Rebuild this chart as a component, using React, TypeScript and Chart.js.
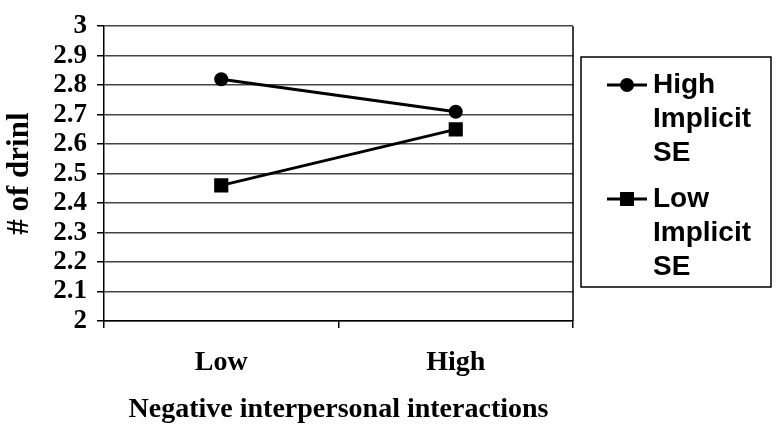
import React, { useEffect, useRef } from "react";
import { Chart, registerables } from "chart.js";

Chart.register(...registerables);

const categories = ["Low", "High"];
const highImplicitSE = [2.82, 2.71];
const lowImplicitSE = [2.46, 2.65];
const seriesLabels = ["High Implicit SE", "Low Implicit SE"];
const yTitle = "# of drinl";
const xTitle = "Negative interpersonal interactions";

const serif = '"Liberation Serif", "Times New Roman", serif';
const sans = '"Liberation Sans", Arial, sans-serif';

const frameAndLegend = {
  id: "frameAndLegend",
  afterDraw(chart: any) {
    const ctx = chart.ctx;
    const a = chart.chartArea;
    ctx.save();
    ctx.strokeStyle = "#000";
    ctx.lineWidth = 1.5;
    ctx.beginPath();
    ctx.moveTo(a.right, a.top);
    ctx.lineTo(a.right, a.bottom);
    ctx.stroke();

    const bx = 581, by = 57, bw = 190, bh = 230;
    ctx.lineWidth = 1.5;
    ctx.strokeRect(bx, by, bw, bh);
    ctx.font = `bold 28px ${sans}`;
    ctx.textBaseline = "middle";
    ctx.textAlign = "left";
    ctx.fillStyle = "#000";
    const starts = [85, 199];
    chart.data.datasets.forEach((ds: any, i: number) => {
      const y0 = starts[i];
      ctx.lineWidth = 3;
      ctx.beginPath();
      ctx.moveTo(607, y0);
      ctx.lineTo(647, y0);
      ctx.stroke();
      if (ds.pointStyle === "circle") {
        ctx.beginPath();
        ctx.arc(627, y0, 7, 0, Math.PI * 2);
        ctx.fill();
      } else {
        ctx.fillRect(620, y0 - 7, 14, 14);
      }
      const words = String(ds.label).split(" ");
      words.forEach((w: string, j: number) => {
        ctx.fillText(w, 653, y0 + j * 34);
      });
    });
    ctx.restore();
  },
};

export default function App() {
  const ref = useRef<HTMLCanvasElement>(null);
  useEffect(() => {
    if (!ref.current) return;
    const chart = new Chart(ref.current, {
      type: "line",
      data: {
        labels: categories,
        datasets: [
          {
            label: seriesLabels[0],
            data: highImplicitSE,
            borderColor: "#000",
            backgroundColor: "#000",
            borderWidth: 3,
            pointStyle: "circle",
            pointRadius: 7,
            pointBorderWidth: 0,
          },
          {
            label: seriesLabels[1],
            data: lowImplicitSE,
            borderColor: "#000",
            backgroundColor: "#000",
            borderWidth: 3,
            pointStyle: "rect",
            pointRadius: 10,
            pointBorderWidth: 0,
          },
        ],
      },
      options: {
        animation: false,
        responsive: false,
        layout: { padding: { top: 18, right: 203, left: 0, bottom: 0 } },
        plugins: { legend: { display: false }, tooltip: { enabled: false } },
        scales: {
          x: {
            type: "category",
            offset: true,
            grid: {
              offset: true,
              drawOnChartArea: false,
              drawTicks: true,
              tickLength: 7,
              color: "#000",
              lineWidth: 1.5,
            },
            border: { color: "#000", width: 1.5 },
            ticks: {
              color: "#000",
              padding: 18,
              font: { family: serif, size: 28, weight: "bold" },
            },
            title: {
              display: true,
              text: xTitle,
              color: "#000",
              padding: { top: 0, bottom: 7 },
              font: { family: serif, size: 28, weight: "bold" },
            },
            afterFit(scale: any) {
              scale.height = 113;
            },
          },
          y: {
            min: 2,
            max: 3,
            ticks: {
              stepSize: 0.1,
              autoSkip: false,
              color: "#000",
              padding: 10,
              font: { family: serif, size: 27, weight: "bold" },
              callback: (v: any) => String(Math.round(Number(v) * 10) / 10),
            },
            grid: {
              color: "#444",
              lineWidth: 1.5,
              tickLength: 7,
              tickColor: "#000",
            },
            border: { color: "#000", width: 1.5 },
            title: {
              display: true,
              text: yTitle,
              color: "#000",
              padding: { top: 1, bottom: 0 },
              font: { family: serif, size: 31, weight: "bold" },
            },
            afterFit(scale: any) {
              scale.width = 104;
            },
          },
        },
      },
      plugins: [frameAndLegend],
    });
    return () => chart.destroy();
  }, []);
  return (
    <div style={{ position: "absolute", left: 0, top: 0, width: 776, height: 434, background: "#fff" }}>
      <canvas ref={ref} width={776} height={434} />
    </div>
  );
}
